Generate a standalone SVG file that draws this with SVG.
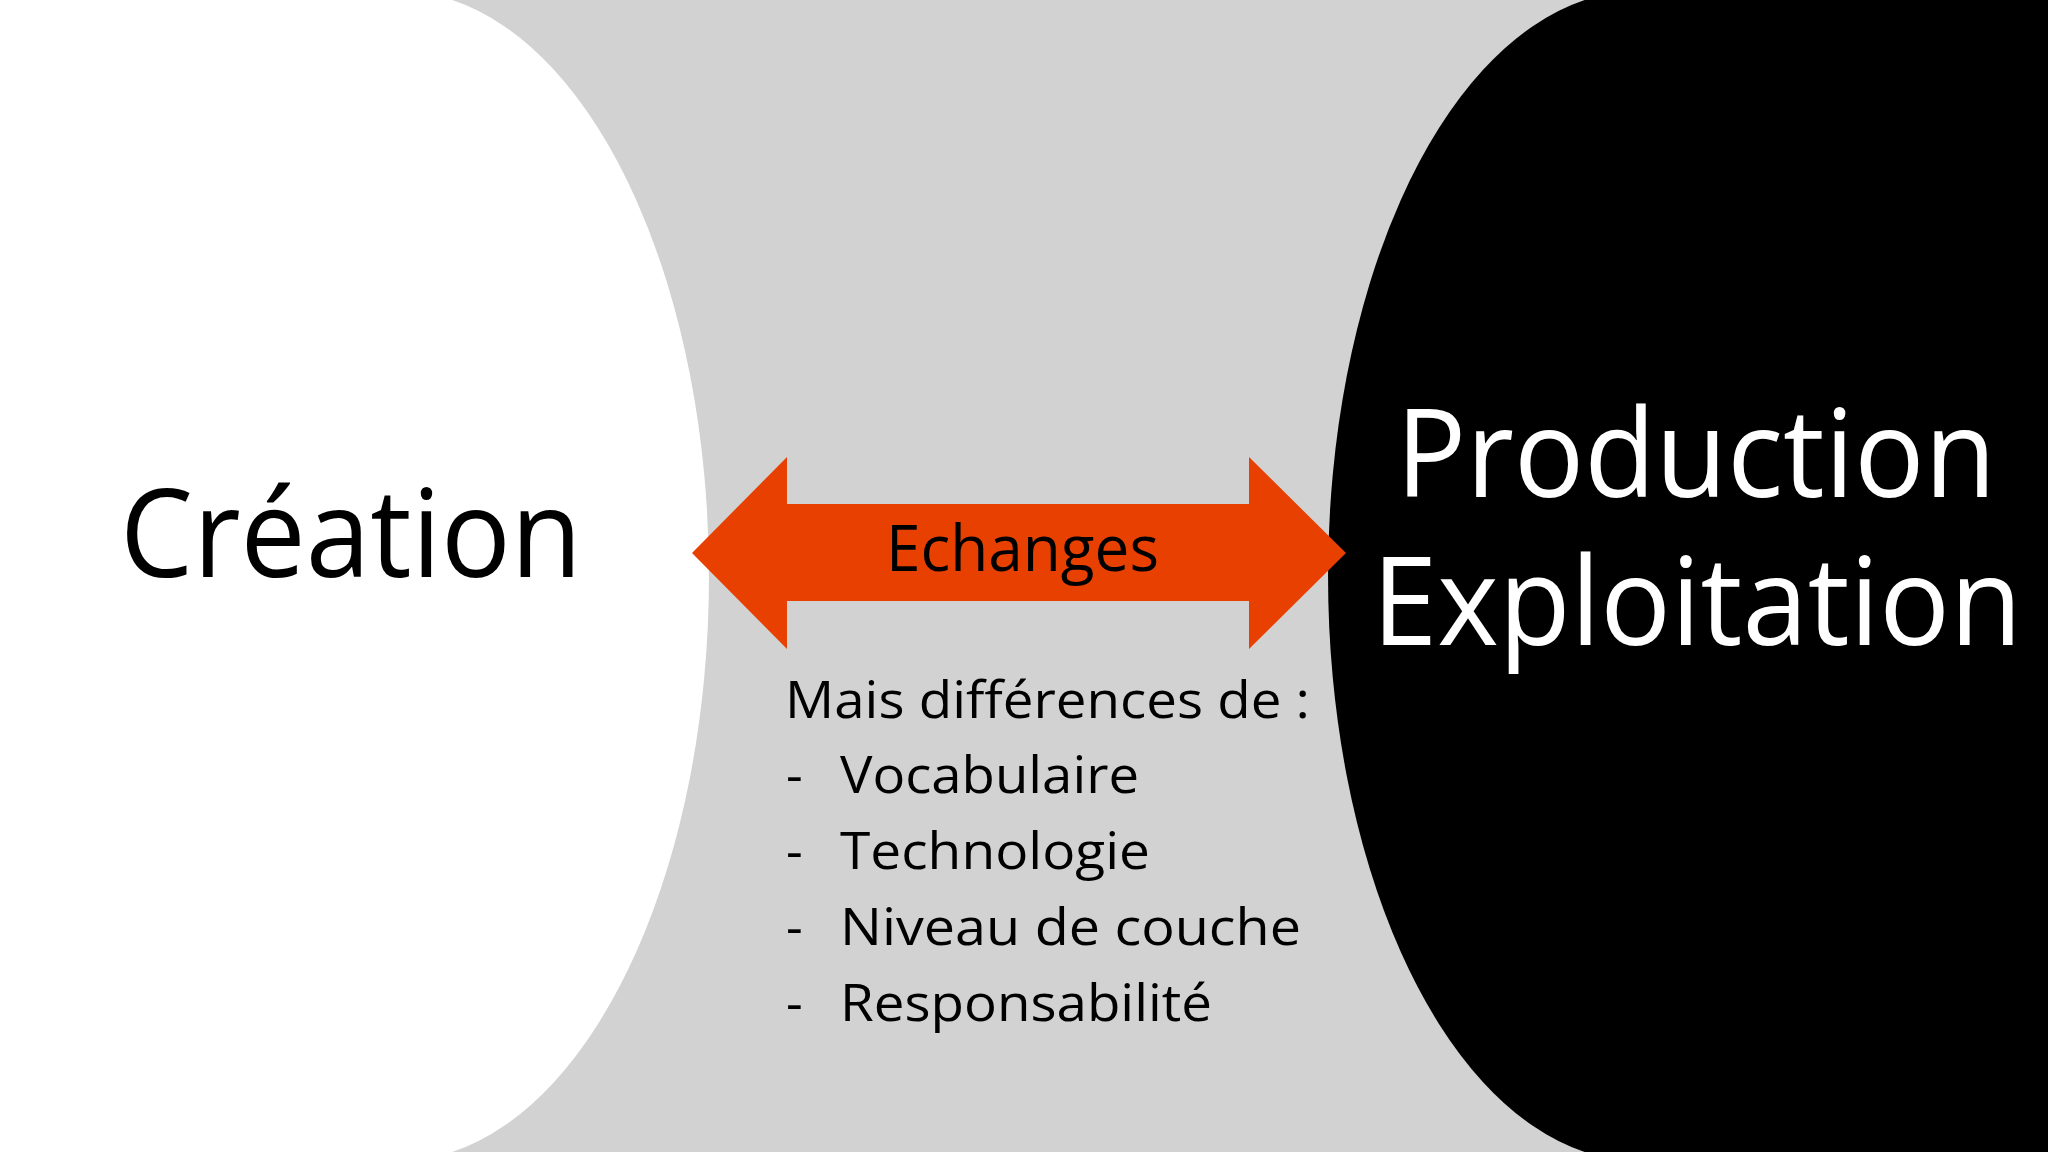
<svg xmlns="http://www.w3.org/2000/svg" width="2048" height="1152" viewBox="0 0 2048 1152">
<style>
.t{font-family:"Open Sans","Noto Sans","Liberation Sans",sans-serif;}
.big{font-size:122px;}
.lbl{font-size:64px;fill:#000;}
.lst{font-size:52px;fill:#000;}
</style>
<rect x="0" y="0" width="2048" height="1152" fill="#D2D2D2"/>
<g id="node-creation">
<path d="M0,0 H452.3 A311,585 0 0 1 452.3,1152 H0 Z" fill="#FFFFFF"/>
<text class="t big" x="120" y="577" fill="#000" textLength="462" lengthAdjust="spacingAndGlyphs">Création</text>
</g>
<g id="node-production">
<path d="M2048,0 H1584.7 A311,585 0 0 0 1584.7,1152 H2048 Z" fill="#000000"/>
<text class="t big" x="1396" y="497" fill="#FFF" textLength="600" lengthAdjust="spacingAndGlyphs">Production</text>
<text class="t big" x="1372" y="645" fill="#FFF" textLength="650" lengthAdjust="spacingAndGlyphs">Exploitation</text>
</g>
<g id="connectors">
<polygon points="692,553 787,457 787,504 1249,504 1249,457 1346,553 1249,649 1249,601 787,601 787,649" fill="#E84000"/>
<text class="t lbl" x="886" y="571" textLength="273" lengthAdjust="spacingAndGlyphs">Echanges</text>
</g>
<g id="node-differences">
<text class="t lst" x="785" y="718" textLength="525" lengthAdjust="spacingAndGlyphs">Mais différences de :</text>
<text class="t lst" x="786" y="793">-</text>
<text class="t lst" x="840" y="793" textLength="299" lengthAdjust="spacingAndGlyphs">Vocabulaire</text>
<text class="t lst" x="786" y="869">-</text>
<text class="t lst" x="840" y="869" textLength="310" lengthAdjust="spacingAndGlyphs">Technologie</text>
<text class="t lst" x="786" y="945">-</text>
<text class="t lst" x="840" y="945" textLength="461" lengthAdjust="spacingAndGlyphs">Niveau de couche</text>
<text class="t lst" x="786" y="1021">-</text>
<text class="t lst" x="840" y="1021" textLength="372" lengthAdjust="spacingAndGlyphs">Responsabilité</text>
</g>
</svg>
